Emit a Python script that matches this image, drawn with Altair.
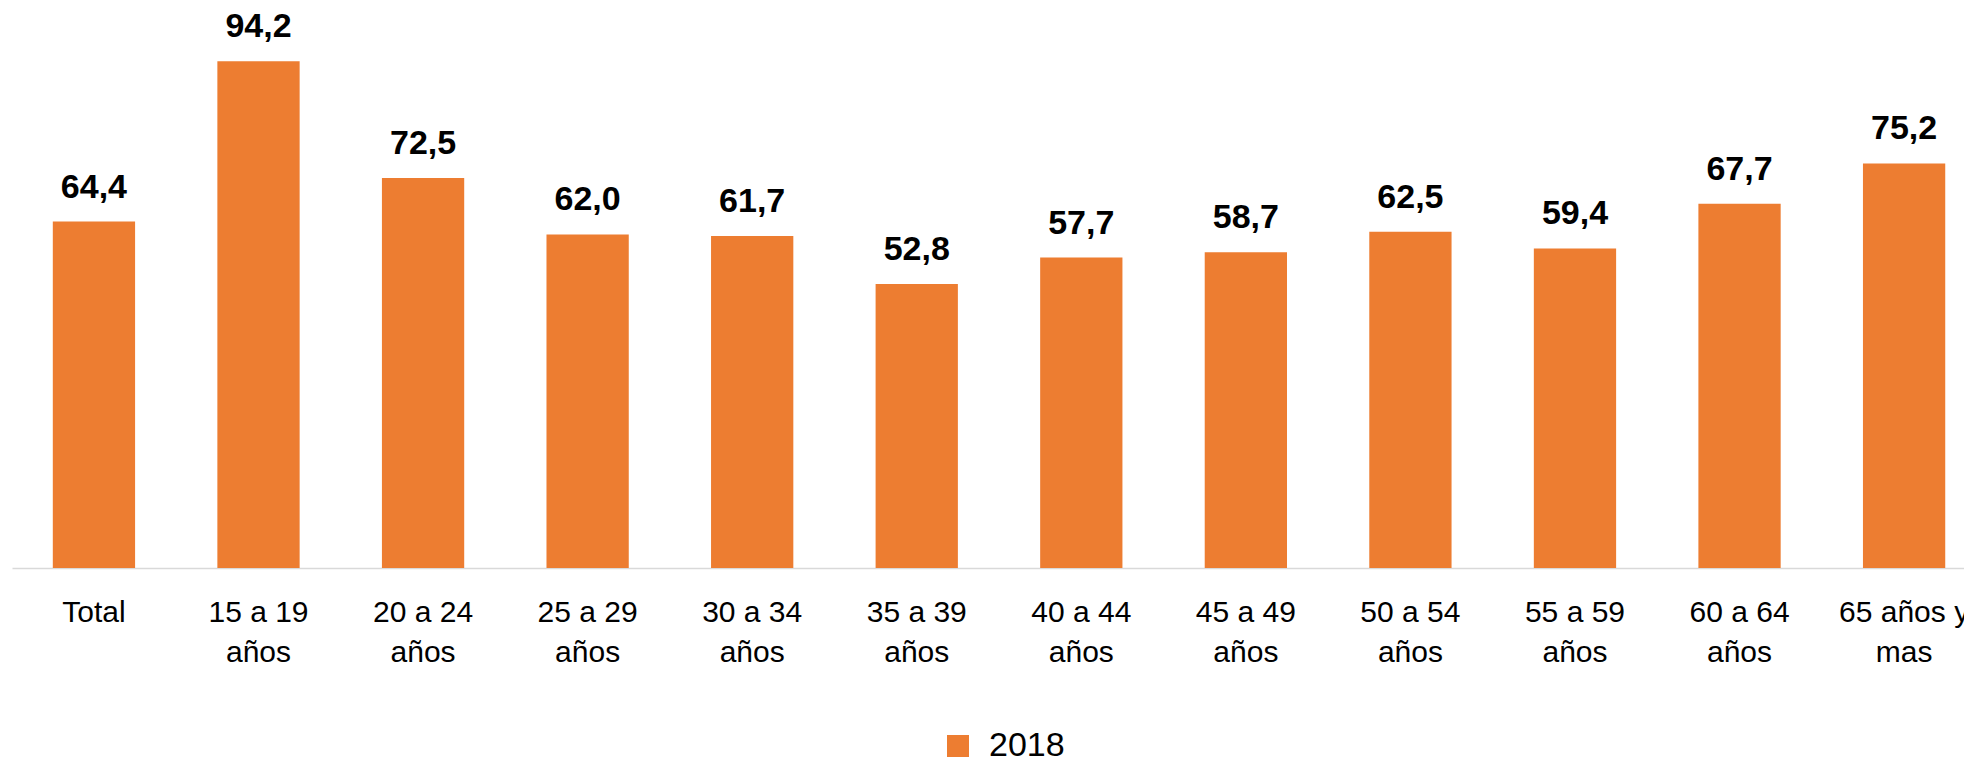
import json
import altair as alt
import pandas as pd

categories = ["Total", "15 a 19 años", "20 a 24 años", "25 a 29 años", "30 a 34 años",
              "35 a 39 años", "40 a 44 años", "45 a 49 años", "50 a 54 años",
              "55 a 59 años", "60 a 64 años", "65 años y mas"]
tick_lines = [["Total"], ["15 a 19", "años"], ["20 a 24", "años"], ["25 a 29", "años"],
              ["30 a 34", "años"], ["35 a 39", "años"], ["40 a 44", "años"],
              ["45 a 49", "años"], ["50 a 54", "años"], ["55 a 59", "años"],
              ["60 a 64", "años"], ["65 años y", "mas"]]
values = [64.4, 94.2, 72.5, 62.0, 61.7, 52.8, 57.7, 58.7, 62.5, 59.4, 67.7, 75.2]
series = "2018"

df = pd.DataFrame({"cat": categories, "val": values, "serie": series})
df["txt"] = [f"{v:.1f}".replace(".", ",") for v in values]

label_map = json.dumps(dict(zip(categories, tick_lines)), ensure_ascii=False)

FONT = "Liberation Sans"
ORANGE = "#ED7D31"

x = alt.X("cat:N", sort=categories, title=None,
          scale=alt.Scale(paddingInner=0.5, paddingOuter=0.181, align=0.685),
          axis=alt.Axis(labelAngle=0, ticks=False, labelExpr=f"{label_map}[datum.label]",
                        labelFont=FONT, labelFontSize=30, labelColor="#000000",
                        labelLineHeight=40, labelPadding=29, labelBaseline="top",
                        domainColor="#d9d9d9", domainWidth=1.5, labelLimit=0))
y = alt.Y("val:Q", scale=alt.Scale(domain=[0, 104.09], nice=False, zero=True), axis=None)

bars = alt.Chart(df).mark_bar(color=ORANGE).encode(
    x=x, y=y,
    color=alt.Color("serie:N", scale=alt.Scale(range=[ORANGE]), title=None,
                    legend=alt.Legend(orient="none", legendX=929, legendY=721,
                                      direction="horizontal", symbolType="square",
                                      symbolSize=484, symbolStrokeWidth=0,
                                      labelFont=FONT, labelFontSize=34,
                                      labelColor="#000000", labelOffset=14, padding=0)),
)
labels = alt.Chart(df).mark_text(font=FONT, fontSize=34, fontWeight="bold",
                                 color="#000000", baseline="alphabetic", dy=-24).encode(
    x=alt.X("cat:N", sort=categories), y="val:Q", text="txt:N")

chart = (bars + labels).properties(
    width=1952, height=560,
    background="#ffffff",
    autosize=alt.AutoSizeParams(type="none"),
    padding={"left": 4, "top": 0, "right": 0, "bottom": 200},
).configure_view(stroke=None, strokeWidth=0)

chart.save("out.html", embed_options={"renderer": "svg", "actions": False})
